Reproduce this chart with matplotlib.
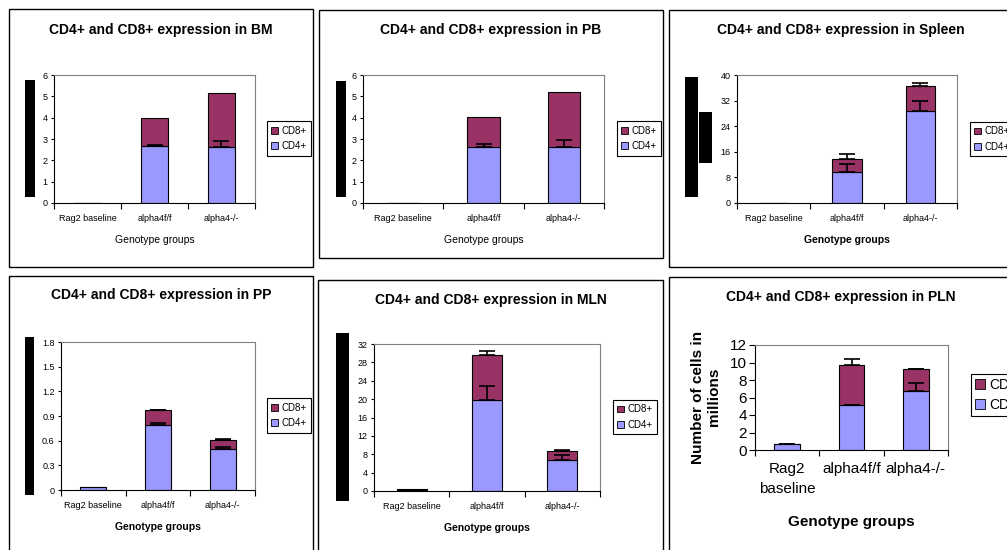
import numpy as np
import matplotlib
matplotlib.use("Agg")
import matplotlib.pyplot as plt
from matplotlib.patches import Rectangle, Patch

plt.rcParams["font.family"] = ["Liberation Sans", "DejaVu Sans"]

W, H = 1007, 550

groups = ["Rag2 baseline", "alpha4f/f", "alpha4-/-"]
groups_pln = ["Rag2\nbaseline", "alpha4f/f", "alpha4-/-"]
cd4_color = "#9999FF"
cd8_color = "#993366"

# values (millions of cells)
bm_cd4 = [0.01, 2.66, 2.62]
bm_cd8 = [0.0, 1.33, 2.55]
bm_cd4_err = [0.0, 0.07, 0.3]
bm_cd8_err = [0.0, 0.0, 0.0]

pb_cd4 = [0.01, 2.63, 2.63]
pb_cd8 = [0.0, 1.38, 2.55]
pb_cd4_err = [0.0, 0.13, 0.32]
pb_cd8_err = [0.0, 0.0, 0.0]

spleen_cd4 = [0.1, 9.7, 28.7]
spleen_cd8 = [0.05, 4.05, 8.0]
spleen_cd4_err = [0.0, 2.4, 3.2]
spleen_cd8_err = [0.0, 1.45, 0.9]

pp_cd4 = [0.035, 0.79, 0.5]
pp_cd8 = [0.005, 0.18, 0.11]
pp_cd4_err = [0.0, 0.02, 0.02]
pp_cd8_err = [0.0, 0.005, 0.005]

mln_cd4 = [0.3, 19.8, 6.8]
mln_cd8 = [0.07, 9.75, 1.9]
mln_cd4_err = [0.0, 3.1, 1.0]
mln_cd8_err = [0.0, 0.95, 0.15]

pln_cd4 = [0.65, 5.1, 6.7]
pln_cd8 = [0.04, 4.6, 2.55]
pln_cd4_err = [0.0, 0.05, 1.0]
pln_cd8_err = [0.02, 0.65, 0.05]

fig = plt.figure(figsize=(W / 100, H / 100), dpi=100)


def fig_rect(x0, y0, x1, y1, **kw):
    r = Rectangle((x0 / W, 1 - y1 / H), (x1 - x0) / W, (y1 - y0) / H,
                  transform=fig.transFigure, **kw)
    fig.add_artist(r)


def panel(title, cd4, cd8, e4, e8, ymax, ystep, box, plot, leg, title_y,
          xlabel_y, redact, big=False, bold_xlabel=True, labels=groups):
    fig_rect(*box, fill=False, ec="black", lw=1.0)
    for r in redact:
        fig_rect(*r, fc="black", ec="none")

    x0, y0, x1, y1 = plot
    ax = fig.add_axes([x0 / W, 1 - y1 / H, (x1 - x0) / W, (y1 - y0) / H])
    x = np.arange(len(cd4))
    cd4 = np.array(cd4)
    cd8 = np.array(cd8)
    ax.bar(x, cd4, 0.4, color=cd4_color, edgecolor="black", lw=0.8, zorder=2)
    ax.bar(x, cd8, 0.4, bottom=cd4, color=cd8_color, edgecolor="black",
           lw=0.8, zorder=2)
    for base, err in [(cd4, np.array(e4)), (cd4 + cd8, np.array(e8))]:
        m = err > 0
        if m.any():
            ax.errorbar(x[m], base[m], yerr=[np.zeros(m.sum()), err[m]],
                        fmt="none", ecolor="black", elinewidth=1.2,
                        capsize=5.5 if not big else 6, capthick=1.2, zorder=3)

    ax.set_xlim(-0.5, len(cd4) - 0.5)
    ax.set_ylim(0, ymax)
    ticks = np.arange(0, ymax + ystep / 2, ystep)
    ax.set_yticks(ticks)
    ax.set_yticklabels(["{:g}".format(round(v, 2)) for v in ticks])
    ax.set_xticks(x)
    ax.set_xticklabels(labels, linespacing=1.5)
    ax.set_xticks(np.arange(-0.5, len(cd4)), minor=True)
    fs = 11 if big else 6.5
    ax.tick_params(axis="x", which="major", length=0, labelsize=fs,
                   pad=9 if big else 8)
    ax.tick_params(axis="x", which="minor", length=4, width=0.8,
                   direction="out")
    ax.tick_params(axis="y", length=4 if big else 2.5, width=0.8,
                   direction="out", labelsize=fs, pad=2)
    for s in ["top", "right"]:
        ax.spines[s].set_color("#808080")
        ax.spines[s].set_linewidth(0.8)
    for s in ["left", "bottom"]:
        ax.spines[s].set_color("black")
        ax.spines[s].set_linewidth(0.8)

    handles = [Patch(fc=cd8_color, ec="black", lw=0.6, label="CD8+"),
               Patch(fc=cd4_color, ec="black", lw=0.6, label="CD4+")]
    lg = ax.legend(handles=handles, loc="center left",
                   bbox_to_anchor=(leg[0] / W, 1 - leg[1] / H),
                   bbox_transform=fig.transFigure, fancybox=False,
                   edgecolor="black", framealpha=1,
                   fontsize=10 if big else 7, handlelength=0.7,
                   handleheight=0.7, handletextpad=0.3,
                   borderpad=0.45 if not big else 0.3,
                   labelspacing=0.55 if not big else 0.45, borderaxespad=0)
    lg.get_frame().set_linewidth(0.8)

    cx = (box[0] + box[2]) / 2
    fig.text(cx / W, 1 - title_y / H, title, ha="center", va="center",
             fontsize=10, fontweight="bold")
    fig.text((x0 + x1) / 2 / W, 1 - xlabel_y / H, "Genotype groups",
             ha="center", va="center", fontsize=11 if big else 7.5,
             fontweight="bold" if bold_xlabel else "normal")
    return ax


panel("CD4+ and CD8+ expression in BM", bm_cd4, bm_cd8, bm_cd4_err,
      bm_cd8_err, 6, 1, (9, 9, 313, 267), (54, 75, 255, 203), (267, 138.5),
      30, 240, [(25, 80, 35, 197)], bold_xlabel=False)
panel("CD4+ and CD8+ expression in PB", pb_cd4, pb_cd8, pb_cd4_err,
      pb_cd8_err, 6, 1, (319, 10, 663, 258), (363, 75, 604, 203),
      (617, 138.5), 30, 240, [(336, 81, 346, 197)], bold_xlabel=False)
panel("CD4+ and CD8+ expression in Spleen", spleen_cd4, spleen_cd8,
      spleen_cd4_err, spleen_cd8_err, 40, 8, (669, 10, 1012, 267),
      (737, 75, 957, 203), (970, 139), 30, 240,
      [(685, 77, 698, 197), (699, 112, 712, 163)])
panel("CD4+ and CD8+ expression in PP", pp_cd4, pp_cd8, pp_cd4_err,
      pp_cd8_err, 1.8, 0.3, (9, 276, 313, 556), (61, 342, 255, 490),
      (267, 415.5), 295, 527, [(25, 337, 34, 495)])
panel("CD4+ and CD8+ expression in MLN", mln_cd4, mln_cd8, mln_cd4_err,
      mln_cd8_err, 32, 4, (318, 280, 663, 556), (374, 344, 600, 491),
      (613, 417), 300, 528, [(336, 333, 349, 501)])
ax6 = panel("CD4+ and CD8+ expression in PLN", pln_cd4, pln_cd8, pln_cd4_err,
            pln_cd8_err, 12, 2, (669, 277, 1012, 556), (755, 345, 948, 450),
            (971, 395), 297, 522, [], big=True, labels=groups_pln)
fig.text(706 / W, 1 - 397 / H, "Number of cells in\nmillions", rotation=90,
         ha="center", va="center", fontsize=11, fontweight="bold",
         linespacing=1.15)

fig.savefig("out.png", dpi=100)
